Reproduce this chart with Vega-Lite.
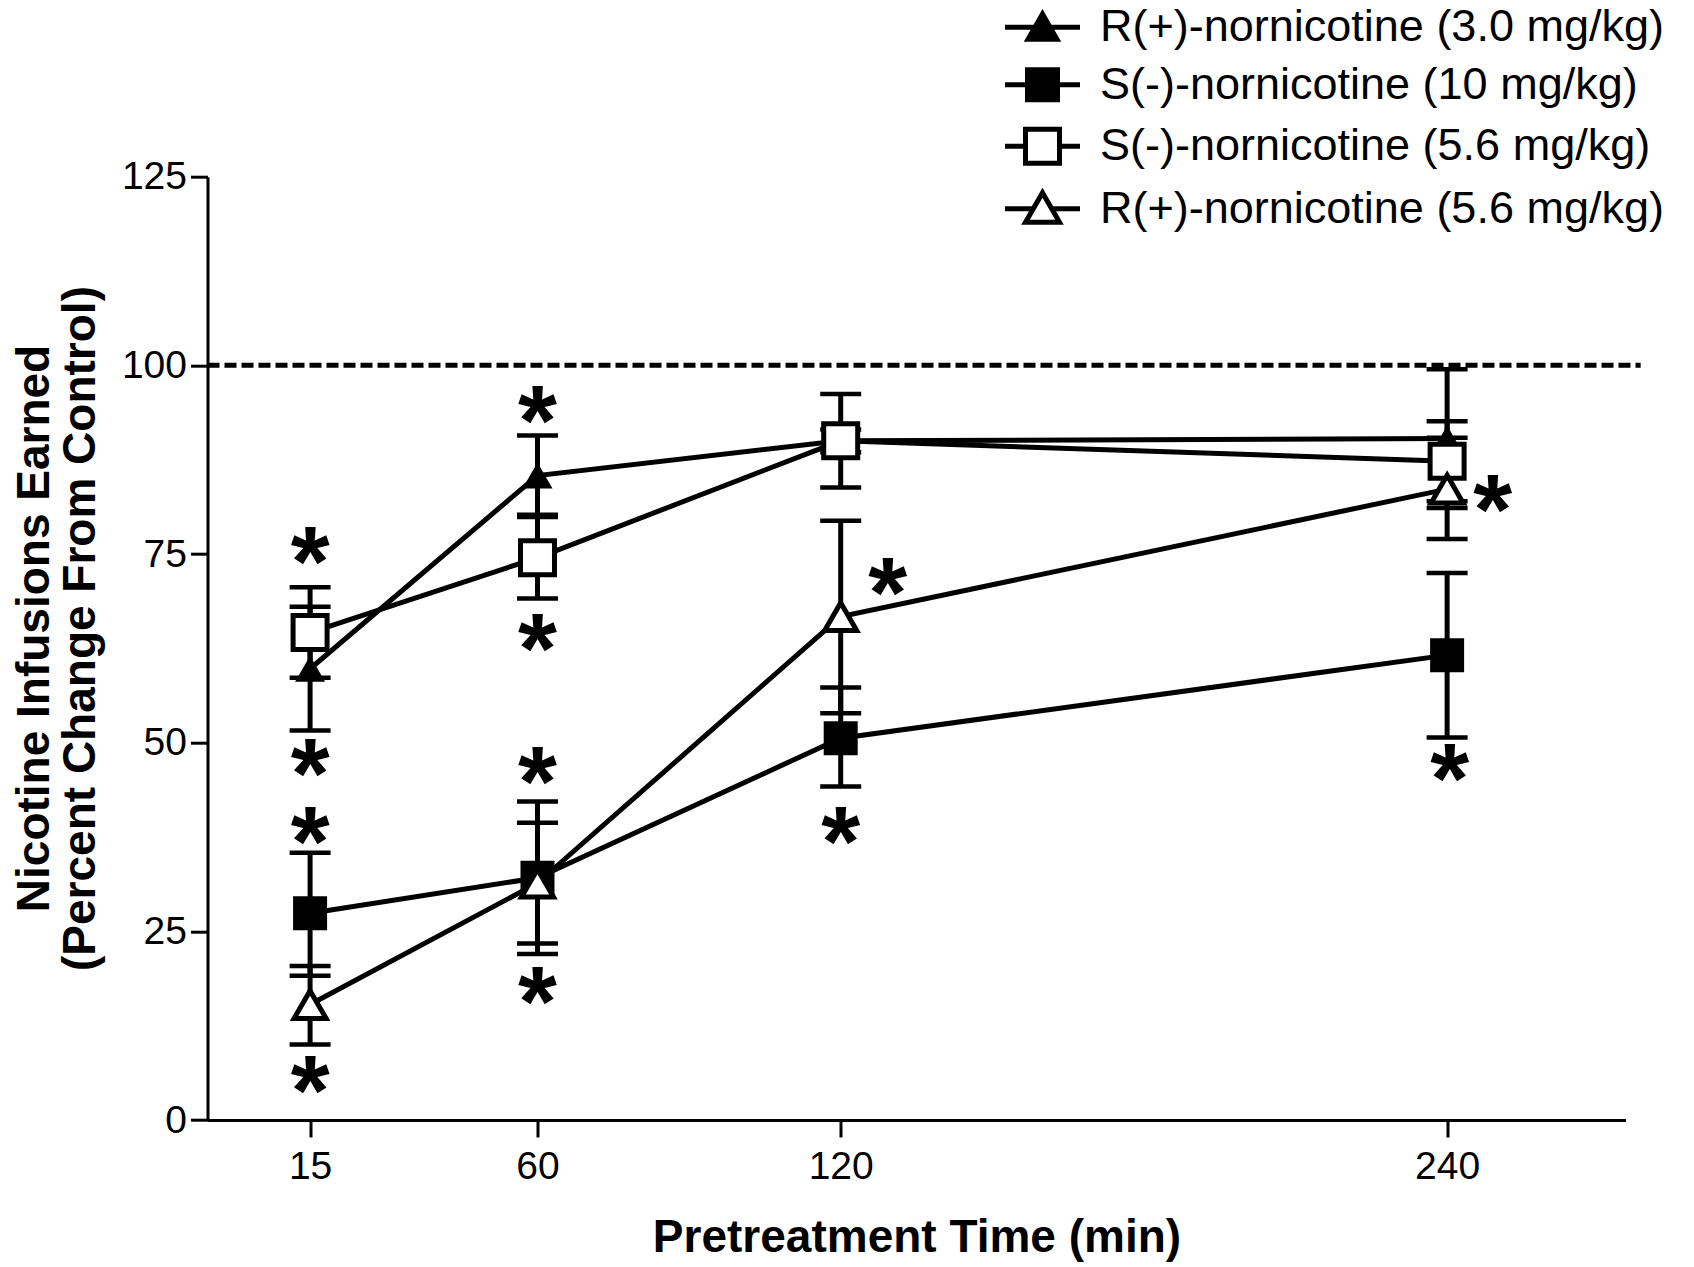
{
  "$schema": "https://vega.github.io/schema/vega-lite/v6.json",
  "width": 1418,
  "height": 943.3,
  "autosize": {"type": "none"},
  "padding": {"left": 207.5, "top": 176.7, "right": 68.5, "bottom": 147},
  "background": "white",
  "config": {
    "view": {"stroke": null},
    "font": "Liberation Sans",
    "axis": {
      "domainColor": "black",
      "domainWidth": 3,
      "tickColor": "black",
      "tickWidth": 3,
      "tickSize": 17,
      "labelColor": "black",
      "labelFont": "Liberation Sans",
      "labelFontSize": 39,
      "titleColor": "black",
      "titleFont": "Liberation Sans",
      "titleFontWeight": "bold",
      "titleFontSize": 46,
      "grid": false
    }
  },
  "resolve": {"scale": {"shape": "independent", "fill": "independent"}},
  "datasets": {
    "pts": [
      {"series": "R(+)-nornicotine (3.0 mg/kg)", "t": 15, "mean": 59.8, "lo": 51.6, "hi": 68.0},
      {"series": "R(+)-nornicotine (3.0 mg/kg)", "t": 60, "mean": 85.4, "lo": 80.2, "hi": 90.7},
      {"series": "R(+)-nornicotine (3.0 mg/kg)", "t": 120, "mean": 90.0, "lo": 88.5, "hi": 91.5},
      {"series": "R(+)-nornicotine (3.0 mg/kg)", "t": 240, "mean": 90.3, "lo": 81.1, "hi": 99.5},
      {"series": "S(-)-nornicotine (10 mg/kg)", "t": 15, "mean": 27.4, "lo": 19.1, "hi": 35.4},
      {"series": "S(-)-nornicotine (10 mg/kg)", "t": 60, "mean": 32.1, "lo": 22.0, "hi": 42.2},
      {"series": "S(-)-nornicotine (10 mg/kg)", "t": 120, "mean": 50.6, "lo": 44.2, "hi": 57.3},
      {"series": "S(-)-nornicotine (10 mg/kg)", "t": 240, "mean": 61.6, "lo": 50.7, "hi": 72.5},
      {"series": "S(-)-nornicotine (5.6 mg/kg)", "t": 15, "mean": 64.6, "lo": 58.6, "hi": 70.6},
      {"series": "S(-)-nornicotine (5.6 mg/kg)", "t": 60, "mean": 74.5, "lo": 69.1, "hi": 79.9},
      {"series": "S(-)-nornicotine (5.6 mg/kg)", "t": 120, "mean": 90.0, "lo": 83.8, "hi": 96.2},
      {"series": "S(-)-nornicotine (5.6 mg/kg)", "t": 240, "mean": 87.3, "lo": 82.0, "hi": 92.6},
      {"series": "R(+)-nornicotine (5.6 mg/kg)", "t": 15, "mean": 15.3, "lo": 10.0, "hi": 20.4},
      {"series": "R(+)-nornicotine (5.6 mg/kg)", "t": 60, "mean": 31.4, "lo": 23.4, "hi": 39.4},
      {"series": "R(+)-nornicotine (5.6 mg/kg)", "t": 120, "mean": 66.7, "lo": 53.9, "hi": 79.4},
      {"series": "R(+)-nornicotine (5.6 mg/kg)", "t": 240, "mean": 83.6, "lo": 77.0, "hi": 90.4}
    ],
    "stars": [
      {"t": 15, "y": 76.0},
      {"t": 15, "y": 48.0},
      {"t": 15, "y": 39.0},
      {"t": 15, "y": 6.0},
      {"t": 60, "y": 94.8},
      {"t": 60, "y": 64.6},
      {"t": 60, "y": 46.9},
      {"t": 60, "y": 17.7},
      {"t": 129.3, "y": 72.0},
      {"t": 120, "y": 38.9},
      {"t": 249, "y": 83.0},
      {"t": 240.5, "y": 47.3}
    ]
  },
  "layer": [
    {
      "data": {"name": "pts"},
      "mark": {"type": "line", "stroke": "black", "strokeWidth": 5},
      "encoding": {
        "x": {
          "field": "t", "type": "quantitative",
          "scale": {"domain": [-5.3, 275.3], "nice": false, "zero": false},
          "axis": {"values": [15, 60, 120, 240], "title": "Pretreatment Time (min)", "labelBaseline": "alphabetic", "labelPadding": 41, "titleBaseline": "alphabetic", "titleY": 131}
        },
        "y": {
          "field": "mean", "type": "quantitative",
          "scale": {"domain": [0, 125], "nice": false},
          "axis": {"values": [0, 25, 50, 75, 100, 125], "title": ["Nicotine Infusions Earned", "(Percent Change From Control)"], "labelPadding": 4, "titleBaseline": "alphabetic", "titleAlign": "center", "titleAngle": -90, "titleX": -159, "titleY": 451.3, "titleLineHeight": 46}
        },
        "detail": {"field": "series"}
      }
    },
    {
      "data": {"name": "pts"},
      "mark": {"type": "rule", "strokeWidth": 5, "color": "black"},
      "encoding": {
        "x": {
          "field": "t", "type": "quantitative",
          "scale": {"domain": [-5.3, 275.3], "nice": false, "zero": false},
          "axis": {"values": [15, 60, 120, 240], "title": "Pretreatment Time (min)", "labelBaseline": "alphabetic", "labelPadding": 41, "titleBaseline": "alphabetic", "titleY": 131}
        },
        "y": {
          "field": "lo", "type": "quantitative",
          "scale": {"domain": [0, 125], "nice": false},
          "axis": {"values": [0, 25, 50, 75, 100, 125], "title": ["Nicotine Infusions Earned", "(Percent Change From Control)"], "labelPadding": 4, "titleBaseline": "alphabetic", "titleAlign": "center", "titleAngle": -90, "titleX": -159, "titleY": 451.3, "titleLineHeight": 46}
        },
        "y2": {"field": "hi"}
      }
    },
    {
      "data": {"name": "pts"},
      "mark": {"type": "tick", "orient": "horizontal", "size": 41, "thickness": 4.5, "color": "black", "opacity": 1},
      "encoding": {
        "x": {
          "field": "t", "type": "quantitative",
          "scale": {"domain": [-5.3, 275.3], "nice": false, "zero": false},
          "axis": {"values": [15, 60, 120, 240], "title": "Pretreatment Time (min)", "labelBaseline": "alphabetic", "labelPadding": 41, "titleBaseline": "alphabetic", "titleY": 131}
        },
        "y": {
          "field": "lo", "type": "quantitative",
          "scale": {"domain": [0, 125], "nice": false},
          "axis": {"values": [0, 25, 50, 75, 100, 125], "title": ["Nicotine Infusions Earned", "(Percent Change From Control)"], "labelPadding": 4, "titleBaseline": "alphabetic", "titleAlign": "center", "titleAngle": -90, "titleX": -159, "titleY": 451.3, "titleLineHeight": 46}
        }
      }
    },
    {
      "data": {"name": "pts"},
      "mark": {"type": "tick", "orient": "horizontal", "size": 41, "thickness": 4.5, "color": "black", "opacity": 1},
      "encoding": {
        "x": {
          "field": "t", "type": "quantitative",
          "scale": {"domain": [-5.3, 275.3], "nice": false, "zero": false},
          "axis": {"values": [15, 60, 120, 240], "title": "Pretreatment Time (min)", "labelBaseline": "alphabetic", "labelPadding": 41, "titleBaseline": "alphabetic", "titleY": 131}
        },
        "y": {
          "field": "hi", "type": "quantitative",
          "scale": {"domain": [0, 125], "nice": false},
          "axis": {"values": [0, 25, 50, 75, 100, 125], "title": ["Nicotine Infusions Earned", "(Percent Change From Control)"], "labelPadding": 4, "titleBaseline": "alphabetic", "titleAlign": "center", "titleAngle": -90, "titleX": -159, "titleY": 451.3, "titleLineHeight": 46}
        }
      }
    },
    {
      "data": {"name": "pts"},
      "mark": {"type": "point", "filled": true, "stroke": "black", "opacity": 1},
      "encoding": {
        "x": {
          "field": "t", "type": "quantitative",
          "scale": {"domain": [-5.3, 275.3], "nice": false, "zero": false},
          "axis": {"values": [15, 60, 120, 240], "title": "Pretreatment Time (min)", "labelBaseline": "alphabetic", "labelPadding": 41, "titleBaseline": "alphabetic", "titleY": 131}
        },
        "y": {
          "field": "mean", "type": "quantitative",
          "scale": {"domain": [0, 125], "nice": false},
          "axis": {"values": [0, 25, 50, 75, 100, 125], "title": ["Nicotine Infusions Earned", "(Percent Change From Control)"], "labelPadding": 4, "titleBaseline": "alphabetic", "titleAlign": "center", "titleAngle": -90, "titleX": -159, "titleY": 451.3, "titleLineHeight": 46}
        },
        "shape": {
          "field": "series", "type": "nominal",
          "scale": {
            "domain": ["R(+)-nornicotine (3.0 mg/kg)", "S(-)-nornicotine (10 mg/kg)", "S(-)-nornicotine (5.6 mg/kg)", "R(+)-nornicotine (5.6 mg/kg)"],
            "range": ["triangle-up", "square", "square", "triangle-up"]
          },
          "legend": null
        },
        "fill": {
          "field": "series", "type": "nominal",
          "scale": {
            "domain": ["R(+)-nornicotine (3.0 mg/kg)", "S(-)-nornicotine (10 mg/kg)", "S(-)-nornicotine (5.6 mg/kg)", "R(+)-nornicotine (5.6 mg/kg)"],
            "range": ["black", "black", "white", "white"]
          },
          "legend": null
        },
        "size": {
          "condition": [
            {"test": "datum.series === 'R(+)-nornicotine (3.0 mg/kg)'", "value": 900},
            {"test": "datum.series === 'R(+)-nornicotine (5.6 mg/kg)'", "value": 1024}
          ],
          "value": 1156
        },
        "strokeWidth": {
          "condition": {"test": "datum.series === 'S(-)-nornicotine (5.6 mg/kg)' || datum.series === 'R(+)-nornicotine (5.6 mg/kg)'", "value": 5},
          "value": 0
        }
      }
    },
    {
      "data": {"name": "pts"},
      "mark": {"type": "point", "filled": true, "stroke": "black", "opacity": 0},
      "encoding": {
        "x": {
          "field": "t", "type": "quantitative",
          "scale": {"domain": [-5.3, 275.3], "nice": false, "zero": false},
          "axis": {"values": [15, 60, 120, 240], "title": "Pretreatment Time (min)", "labelBaseline": "alphabetic", "labelPadding": 41, "titleBaseline": "alphabetic", "titleY": 131}
        },
        "y": {
          "field": "mean", "type": "quantitative",
          "scale": {"domain": [0, 125], "nice": false},
          "axis": {"values": [0, 25, 50, 75, 100, 125], "title": ["Nicotine Infusions Earned", "(Percent Change From Control)"], "labelPadding": 4, "titleBaseline": "alphabetic", "titleAlign": "center", "titleAngle": -90, "titleX": -159, "titleY": 451.3, "titleLineHeight": 46}
        },
        "shape": {
          "field": "series", "type": "nominal",
          "scale": {
            "domain": ["R(+)-nornicotine (3.0 mg/kg)", "S(-)-nornicotine (10 mg/kg)", "S(-)-nornicotine (5.6 mg/kg)", "R(+)-nornicotine (5.6 mg/kg)"],
            "range": [
              "M-1.875,0H1.875M0,-0.66L-0.72,0.6L0.72,0.6Z",
              "M-1.875,0H1.875M-0.75,-0.75H0.75V0.75H-0.75Z",
              "M-1.875,0H-0.85M0.85,0H1.875M-0.85,-0.85H0.85V0.85H-0.85Z",
              "M-1.875,0H-0.46M0.46,0H1.875M0,-0.8L-0.85,0.675L0.85,0.675Z"
            ]
          },
          "legend": {
            "orient": "none",
            "legendX": 812.5,
            "legendY": -172,
            "title": null,
            "padding": 0,
            "symbolSize": 1600,
            "symbolStrokeWidth": 5,
            "symbolOpacity": 1,
            "labelFont": "Liberation Sans",
            "labelFontSize": 45,
            "labelColor": "black",
            "labelLimit": 1000,
            "labelOffset": 35,
            "rowPadding": 8.5
          }
        },
        "fill": {
          "field": "series", "type": "nominal",
          "scale": {
            "domain": ["R(+)-nornicotine (3.0 mg/kg)", "S(-)-nornicotine (10 mg/kg)", "S(-)-nornicotine (5.6 mg/kg)", "R(+)-nornicotine (5.6 mg/kg)"],
            "range": ["black", "black", "white", "white"]
          },
          "legend": {
            "orient": "none",
            "legendX": 812.5,
            "legendY": -172,
            "title": null,
            "padding": 0,
            "symbolSize": 1600,
            "symbolStrokeWidth": 5,
            "symbolOpacity": 1,
            "labelFont": "Liberation Sans",
            "labelFontSize": 45,
            "labelColor": "black",
            "labelLimit": 1000,
            "labelOffset": 35,
            "rowPadding": 8.5
          }
        }
      }
    },
    {
      "data": {"name": "stars"},
      "mark": {"type": "text", "text": "*", "font": "Liberation Sans", "fontWeight": "bold", "fontSize": 100, "baseline": "alphabetic", "align": "center", "dy": 50, "color": "black"},
      "encoding": {
        "x": {
          "field": "t", "type": "quantitative",
          "scale": {"domain": [-5.3, 275.3], "nice": false, "zero": false},
          "axis": {"values": [15, 60, 120, 240], "title": "Pretreatment Time (min)", "labelBaseline": "alphabetic", "labelPadding": 41, "titleBaseline": "alphabetic", "titleY": 131}
        },
        "y": {
          "field": "y", "type": "quantitative",
          "scale": {"domain": [0, 125], "nice": false},
          "axis": {"values": [0, 25, 50, 75, 100, 125], "title": ["Nicotine Infusions Earned", "(Percent Change From Control)"], "labelPadding": 4, "titleBaseline": "alphabetic", "titleAlign": "center", "titleAngle": -90, "titleX": -159, "titleY": 451.3, "titleLineHeight": 46}
        }
      }
    },
    {
      "data": {"values": [{}]},
      "mark": {"type": "rule", "strokeDash": [12, 5], "strokeWidth": 5, "color": "black"},
      "encoding": {
        "x": {
          "datum": -5.3, "type": "quantitative",
          "scale": {"domain": [-5.3, 275.3], "nice": false, "zero": false},
          "axis": {"values": [15, 60, 120, 240], "title": "Pretreatment Time (min)", "labelBaseline": "alphabetic", "labelPadding": 41, "titleBaseline": "alphabetic", "titleY": 131}
        },
        "x2": {"datum": 278.3},
        "y": {
          "datum": 100, "type": "quantitative",
          "scale": {"domain": [0, 125], "nice": false},
          "axis": {"values": [0, 25, 50, 75, 100, 125], "title": ["Nicotine Infusions Earned", "(Percent Change From Control)"], "labelPadding": 4, "titleBaseline": "alphabetic", "titleAlign": "center", "titleAngle": -90, "titleX": -159, "titleY": 451.3, "titleLineHeight": 46}
        }
      }
    }
  ]
}
